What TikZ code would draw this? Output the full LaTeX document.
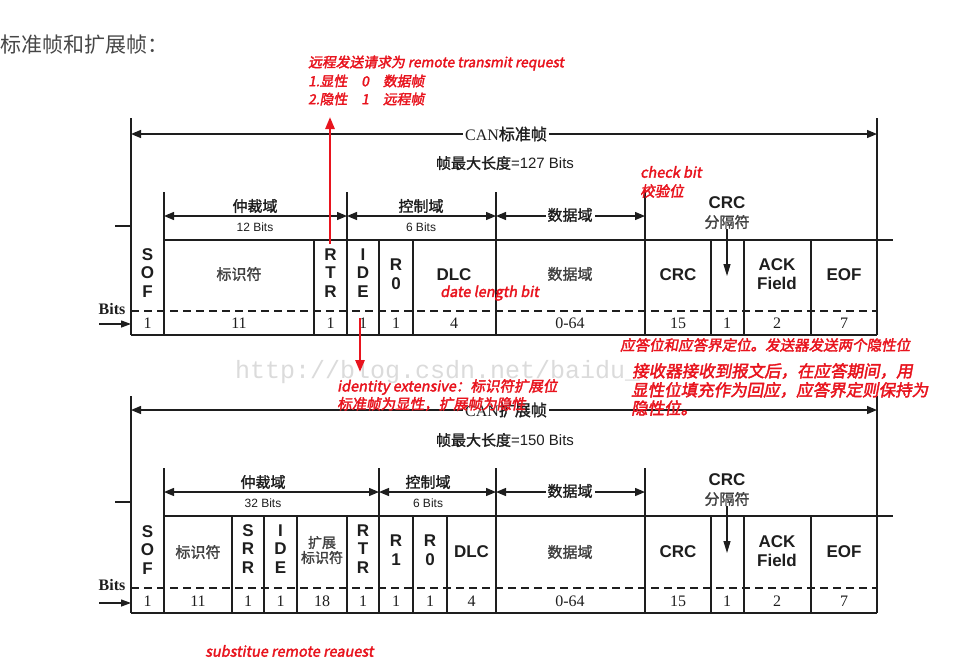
\documentclass[tikz,border=0pt]{standalone}
\usepackage{fontspec}
\setmainfont{Liberation Serif}
\newfontfamily\cjk{Noto Sans CJK SC}
\newfontfamily\cjkb{Noto Sans CJK SC}[FakeBold=1.6]
\newfontfamily\lab{Liberation Sans}
\newfontfamily\redf{Noto Sans CJK SC}[FakeSlant=0.18,FakeBold=2.4]
\newfontfamily\wmark{Liberation Mono}
\usetikzlibrary{arrows.meta}
\definecolor{annot}{RGB}{232,20,30}
\definecolor{ink}{RGB}{30,30,30}
\begin{document}
\begin{tikzpicture}[x=1pt,y=-1pt,
 frame/.style={line width=1.4pt, ink},
 thinline/.style={line width=1.1pt, ink},
 dim/.style={line width=1.3pt, ink, {Triangle[length=10pt,width=8pt]}-{Triangle[length=10pt,width=8pt]}},
 cellt/.style={font=\lab\bfseries\fontsize{17}{18.5}\selectfont, align=center, inner sep=0pt, text=ink},
 cellc/.style={font=\cjkb\fontsize{15}{16}\selectfont, align=center, inner sep=0pt, text=ink!85},
 num/.style={font=\fontsize{16}{16}\selectfont, inner sep=0pt, text=ink},
 dimlab/.style={font=\cjkb\fontsize{15}{15}\selectfont, fill=white, inner sep=2pt, text=ink},
 bitlab/.style={font=\lab\fontsize{12}{12}\selectfont, inner sep=0pt, text=ink},
 toplab/.style={font=\fontsize{16}{16}\selectfont, fill=white, inner sep=2pt, text=ink},
 lenlab/.style={font=\cjkb\fontsize{15}{15}\selectfont, inner sep=0pt, text=ink},
 bitsword/.style={font=\bfseries\fontsize{16}{16}\selectfont, inner sep=0pt, text=ink},
 note/.style={font=\redf\fontsize{14.5}{17}\selectfont, text=annot, anchor=west, inner sep=0pt, align=left},
 redarrow/.style={annot, line width=2.6pt, -{Triangle[length=12pt,width=9pt]}},
 sepline/.style={line width=1.2pt, ink, -{Triangle[length=12pt,width=7pt]}},
 bitsarrow/.style={line width=1.3pt, ink, -{Triangle[length=10pt,width=7pt]}}
]
\useasboundingbox (0,0) rectangle (960,667);

% title
\node[font=\cjk\fontsize{21}{21}\selectfont, text=black!72, anchor=west, inner sep=0pt] (title) at (0,45) {标准帧和扩展帧：};

% watermark
\node[font=\wmark\fontsize{25}{25}\selectfont, text=black!14, anchor=west, inner sep=0pt] (wm) at (235,372) {http://blog.csdn.net/baidu\_};

%================ standard frame =================
\draw[frame] (131,118) -- (131,335);
\draw[frame] (877,118) -- (877,335);
\draw[dim] (131,134) -- (877,134);
\node[toplab] (can1) at (506,134) {CAN{\cjkb 标准帧}};
\node[lenlab] (len1) at (505,163) {帧最大长度{\lab =127 Bits}};
\draw[frame] (115,226) -- (131,226);
\foreach \x in {164,347,496,645} \draw[thinline] (\x,192) -- (\x,240);
\draw[dim] (164,216) -- (347,216);
\draw[dim] (347,216) -- (496,216);
\draw[dim] (496,216) -- (645,216);
\node[dimlab] (arb1) at (255,206) {仲裁域};
\node[bitlab] (arbb1) at (255,227) {12 Bits};
\node[dimlab] (ctl1) at (421,206) {控制域};
\node[bitlab] (ctlb1) at (421,227) {6 Bits};
\node[dimlab] (dat1) at (570,215) {数据域};
\draw[frame, line width=2pt] (164,240) -- (893,240);
\draw[frame] (131,335) -- (877,335);
\draw[frame, dash pattern=on 8pt off 5pt] (131,311) -- (877,311);
\foreach \x in {164,314,347,379,413,496,645,711,744,811} \draw[thinline] (\x,240) -- (\x,335);
% cell contents
\node[cellt] (s1) at (147.5,273) {S\\O\\F};
\node[cellc] (id1) at (239,274) {标识符};
\node[cellt] (rtr1) at (330.5,273) {R\\T\\R};
\node[cellt] (ide1) at (363,273) {I\\D\\E};
\node[cellt] (r01) at (396,274) {R\\0};
\node[cellt] (dlc1) at (454,275) {DLC};
\node[cellc] (data1) at (570,274) {数据域};
\node[cellt] (crc1) at (678,275) {CRC};
\node[cellt] (ack1) at (777,274) {ACK\\Field};
\node[cellt] (eof1) at (844,275) {EOF};
\foreach \x/\t [count=\i] in {147.5/1,239/11,330.5/1,363/1,396/1,454/4,570/0-64,678/15,727/1,777/2,844/7}
  \node[num] (na\i) at (\x,323) {\t};
% CRC delimiter
\node[cellt] (crcs1) at (727,203) {CRC};
\node[cellc] (crcd1) at (727,222) {分隔符};
\coordinate (sepe1) at (727,276);
\draw[sepline] (crcd1.south) -- (sepe1);
% bits
\node[bitsword] (bits1) at (112,309) {Bits};
\coordinate (ba1) at (99,324);
\coordinate (bb1) at (131,324);
\draw[bitsarrow] (ba1) -- (bb1);

%================ extended frame =================
\draw[frame] (131,396) -- (131,613);
\draw[frame] (877,396) -- (877,613);
\draw[dim] (131,410) -- (877,410);
\node[toplab] (can2) at (506,410) {CAN{\cjkb 扩展帧}};
\node[lenlab] (len2) at (505,440) {帧最大长度{\lab =150 Bits}};
\draw[frame] (115,502) -- (131,502);
\foreach \x in {164,379,496,645} \draw[thinline] (\x,468) -- (\x,516);
\draw[dim] (164,492) -- (379,492);
\draw[dim] (379,492) -- (496,492);
\draw[dim] (496,492) -- (645,492);
\node[dimlab] (arb2) at (263,482) {仲裁域};
\node[bitlab] (arbb2) at (263,503) {32 Bits};
\node[dimlab] (ctl2) at (428,482) {控制域};
\node[bitlab] (ctlb2) at (428,503) {6 Bits};
\node[dimlab] (dat2) at (570,491) {数据域};
\draw[frame, line width=2pt] (164,516) -- (893,516);
\draw[frame] (131,613) -- (877,613);
\draw[frame, dash pattern=on 8pt off 5pt] (131,588) -- (877,588);
\foreach \x in {164,232,264,297,347,379,413,447,496,645,711,744,811} \draw[thinline] (\x,516) -- (\x,613);
\node[cellt] (s2) at (147.5,550) {S\\O\\F};
\node[cellc] (id2) at (198,552) {标识符};
\node[cellt] (srr2) at (248,549) {S\\R\\R};
\node[cellt] (ide2) at (280.5,549) {I\\D\\E};
\node[cellc, font=\cjkb\fontsize{14}{15}\selectfont] (ext2) at (322,550) {扩展\\标识符};
\node[cellt] (rtr2) at (363,549) {R\\T\\R};
\node[cellt] (r12) at (396,550) {R\\1};
\node[cellt] (r02) at (430,550) {R\\0};
\node[cellt] (dlc2) at (471.5,552) {DLC};
\node[cellc] (data2) at (570,552) {数据域};
\node[cellt] (crc2) at (678,552) {CRC};
\node[cellt] (ack2) at (777,551) {ACK\\Field};
\node[cellt] (eof2) at (844,552) {EOF};
\foreach \x/\t [count=\i] in {147.5/1,198/11,248/1,280.5/1,322/18,363/1,396/1,430/1,471.5/4,570/0-64,678/15,727/1,777/2,844/7}
  \node[num] (nb\i) at (\x,601) {\t};
\node[cellt] (crcs2) at (727,480) {CRC};
\node[cellc] (crcd2) at (727,499) {分隔符};
\coordinate (sepe2) at (727,553);
\draw[sepline] (crcd2.south) -- (sepe2);
\node[bitsword] (bits2) at (112,585) {Bits};
\coordinate (ba2) at (99,603);
\coordinate (bb2) at (131,603);
\draw[bitsarrow] (ba2) -- (bb2);

%================ red annotations =================
\node[note, font=\redf\fontsize{13.8}{16}\selectfont] (n1) at (308,63) {远程发送请求为 remote transmit request};
\node[note, font=\redf\fontsize{13.8}{16}\selectfont] (n2) at (308,81) {1.显性\hspace{14pt}0\hspace{14pt}数据帧};
\node[note, font=\redf\fontsize{13.8}{16}\selectfont] (n3) at (308,99) {2.隐性\hspace{14pt}1\hspace{14pt}远程帧};
\coordinate (ra1s) at (330,244);
\coordinate (ra1e) at (330,117);
\draw[redarrow] (ra1s) -- (ra1e);
\coordinate (ra2s) at (360,318);
\coordinate (ra2e) at (360,372);
\draw[redarrow] (ra2s) -- (ra2e);
\node[note] (n4) at (337,387) {identity extensive：标识符扩展位};
\node[note] (n5) at (337,404) {标准帧为显性，扩展帧为隐性};
\node[note] (n6) at (640,172) {check bit};
\node[note] (n7) at (640,191) {校验位};
\node[note] (n8) at (440,293) {date length bit};
\node[note] (n9) at (620,345) {应答位和应答界定位。发送器发送两个隐性位};
\node[note, font=\redf\fontsize{16.5}{18}\selectfont] (n10) at (632,371) {接收器接收到报文后，在应答期间，用};
\node[note, font=\redf\fontsize{16.5}{18}\selectfont] (n11) at (631,390) {显性位填充作为回应，应答界定则保持为};
\node[note, font=\redf\fontsize{16.5}{18}\selectfont] (n12) at (631,408) {隐性位。};
\node[note] (n13) at (205,651) {substitue remote reauest};
\end{tikzpicture}
\end{document}
